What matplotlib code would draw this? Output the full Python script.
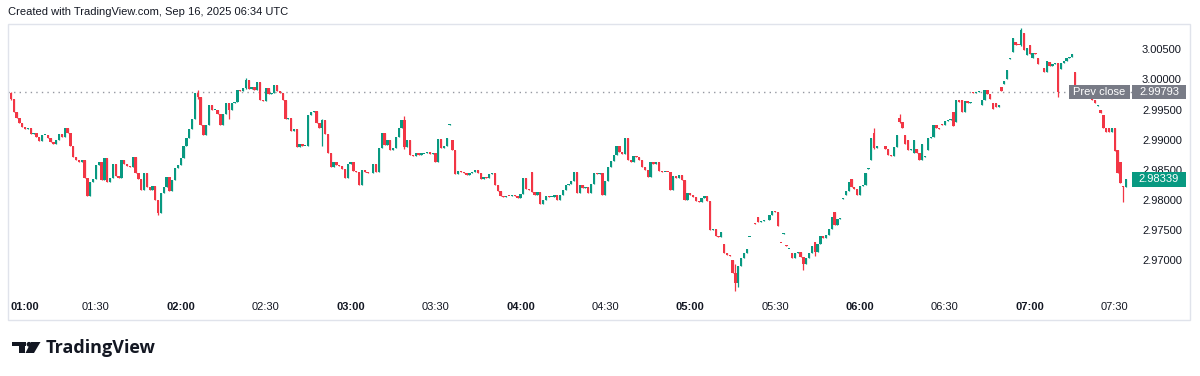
import numpy as np
import matplotlib
matplotlib.use("Agg")
import matplotlib.pyplot as plt
import matplotlib.transforms as mtrans
from matplotlib.patches import Rectangle, Circle, Polygon

# 1-minute candles starting 01:00, prices x 10000
first_open = 29978
closes = [
    29968, 29946, 29936, 29928, 29921, 29917, 29919, 29909, 29911, 29904,
    29898, 29908, 29908, 29903, 29896, 29893, 29899, 29909, 29905, 29920,
    29911, 29889, 29871, 29866, 29862, 29866, 29836, 29806, 29829, 29834,
    29858, 29862, 29833, 29869, 29830, 29836, 29860, 29840, 29836, 29866,
    29860, 29856, 29855, 29871, 29845, 29835, 29816, 29845, 29822, 29817,
    29823, 29800, 29778, 29812, 29821, 29838, 29815, 29833, 29853, 29858,
    29869, 29889, 29903, 29917, 29934, 29978, 29970, 29924, 29907, 29924,
    29958, 29949, 29950, 29942, 29924, 29943, 29960, 29950, 29961, 29963,
    29982, 29980, 29986, 29999, 29984, 29987, 29983, 29995, 29966, 29964,
    29986, 29975, 29978, 29991, 29980, 29978, 29966, 29934, 29936, 29914,
    29917, 29888, 29892, 29890, 29890, 29941, 29946, 29948, 29928, 29920,
    29932, 29910, 29877, 29854, 29863, 29858, 29856, 29851, 29836, 29860,
    29863, 29848, 29847, 29824, 29849, 29846, 29844, 29845, 29859, 29846,
    29886, 29911, 29891, 29900, 29883, 29886, 29905, 29920, 29932, 29888,
    29900, 29874, 29872, 29877, 29874, 29877, 29878, 29879, 29876, 29878,
    29862, 29901, 29886, 29889, 29902, 29926, 29882, 29843, 29848, 29846,
    29845, 29842, 29844, 29847, 29849, 29845, 29834, 29838, 29836, 29843,
    29844, 29825, 29814, 29806, 29805, 29807, 29806, 29808, 29806, 29803,
    29810, 29836, 29818, 29816, 29813, 29808, 29813, 29793, 29800, 29807,
    29805, 29805, 29808, 29800, 29808, 29817, 29825, 29826, 29832, 29846,
    29812, 29825, 29820, 29822, 29812, 29826, 29845, 29843, 29845, 29808,
    29832, 29855, 29864, 29874, 29889, 29879, 29876, 29903, 29866, 29863,
    29872, 29871, 29866, 29855, 29850, 29838, 29863, 29860, 29862, 29848,
    29846, 29847, 29846, 29816, 29839, 29836, 29841, 29833, 29800, 29811,
    29808, 29805, 29798, 29797, 29803, 29806, 29798, 29750, 29752, 29740,
    29739, 29746, 29712, 29708, 29706, 29679, 29662, 29690, 29703, 29712,
    29718, 29739, 29751, 29760, 29763, 29765, 29766, 29767, 29774, 29782,
    29780, 29757, 29728, 29745, 29724, 29719, 29703, 29712, 29713, 29705,
    29694, 29703, 29712, 29724, 29713, 29726, 29740, 29737, 29742, 29752,
    29771, 29758, 29768, 29769, 29803, 29815, 29829, 29822, 29818, 29808,
    29823, 29825, 29844, 29853, 29903, 29886, 29890, 29889, 29890, 29885,
    29875, 29873, 29887, 29907, 29929, 29919, 29893, 29883, 29884, 29899,
    29877, 29866, 29893, 29872, 29902, 29905, 29924, 29920, 29917, 29925,
    29931, 29933, 29935, 29922, 29965, 29963, 29946, 29964, 29960, 29963,
    29977, 29979, 29980, 29966, 29982, 29976, 29967, 29951, 29955, 29957,
    29980, 29997, 30015, 30035, 30068, 30058, 30057, 30082, 30049, 30052,
    30042, 30044, 30043, 30025, 30026, 30013, 30031, 30023, 30026, 30028,
    29979, 30027, 30030, 30035, 30037, 30042, 29991, 29990, 29989, 29985,
    29978, 29970, 29965, 29960, 29957, 29944, 29919, 29912, 29913, 29919,
    29881, 29845, 29828, 29822, 29833.9,
]
# candles whose open is not the previous close
gap_opens = {
    155: 29925, 156: 29899, 184: 29846, 252: 29727, 255: 29700, 261: 29738,
    262: 29752, 263: 29761, 264: 29771, 272: 29729, 273: 29744, 274: 29725,
    275: 29718, 276: 29712, 284: 29730, 291: 29780, 294: 29802, 295: 29808,
    297: 29834, 303: 29851, 304: 29866, 305: 29911, 314: 29936, 316: 29907,
    317: 29899, 319: 29878, 320: 29885, 323: 29871, 324: 29882, 329: 29926,
    333: 29946, 334: 29930, 336: 29966, 340: 29979, 343: 29957, 347: 29961,
    348: 29960, 350: 29987, 351: 29993, 352: 30000, 353: 30034, 354: 30045,
    355: 30062, 358: 30077, 359: 30040, 360: 30058, 361: 30036, 363: 30036,
    365: 30019, 367: 30029, 370: 30027, 371: 30017, 376: 30012, 384: 29956,
    385: 29949, 386: 29941, 387: 29920, 388: 29920, 390: 29920, 391: 29883,
    392: 29863, 393: 29823,
}
# (high, low) where the wick sticks out
wicks = {
    0: (29979, 29965), 52: (29800, 29775), 66: (29983, 29968), 77: (29961, 29935),
    83: (30003, 29984), 110: (29935, 29890), 139: (29940, 29885), 256: (29693, 29648),
    257: (29690, 29655), 280: (29705, 29684), 284: (29730, 29706), 305: (29920, 29884),
    314: (29943, 29928), 357: (30086, 30055), 370: (30028, 29970), 393: (29823, 29797),
}

prev_close = 2.99793
last_price = 2.98339
price_ticks = [2.970, 2.975, 2.980, 2.985, 2.990, 2.995, 3.000, 3.005]
time_ticks = [0, 30, 60, 90, 120, 150, 180, 210, 240, 270, 300, 330, 360, 390]
time_labels = ["01:00", "01:30", "02:00", "02:30", "03:00", "03:30", "04:00",
               "04:30", "05:00", "05:30", "06:00", "06:30", "07:00", "07:30"]

GREEN = "#089981"
RED = "#F23645"
TXT = "#131722"
plt.rcParams["font.family"] = ["Liberation Sans", "DejaVu Sans"]

c = np.array(closes, dtype=float) / 1e4
o = np.empty_like(c)
o[0] = first_open / 1e4
o[1:] = c[:-1]
for k, v in gap_opens.items():
    o[k] = v / 1e4
hi = np.maximum(o, c)
lo = np.minimum(o, c)
for k, (h, l) in wicks.items():
    hi[k] = h / 1e4
    lo[k] = l / 1e4
x = np.arange(len(c))
cols = np.where(c >= o, GREEN, RED)

W, H = 1200, 376
fig = plt.figure(figsize=(12, 3.76), dpi=100)
fig.patch.set_facecolor("white")
ax = fig.add_axes([8 / W, 1 - 296 / H, 1125 / W, 271 / H])

body_lo = np.minimum(o, c)
body_h = np.abs(c - o)
small = body_h < 0.00014
body_lo[small] = (o[small] + c[small]) / 2 - 0.00007
body_h[small] = 0.00014
ax.vlines(x, lo, hi, colors=cols, lw=0.9, zorder=3)
ax.bar(x, body_h, bottom=body_lo, width=0.82, color=cols, lw=0, zorder=4)

ax.axhline(prev_close, color="#9598a1", lw=1, linestyle=(0, (1, 3)), zorder=2)

ax.set_xlim(-1.06, 396.47)
ax.set_ylim(2.96402, 3.00904)
for s in ax.spines.values():
    s.set_visible(False)

ax.set_xticks(time_ticks)
ax.set_xticklabels(time_labels)
ax.tick_params(axis="x", length=0, pad=4, labelsize=8, labelcolor=TXT)
for i, lab in enumerate(ax.get_xticklabels()):
    if time_labels[i].endswith(":00"):
        lab.set_fontweight("bold")
ax.get_xticklabels()[0].set_horizontalalignment("left")

ax.yaxis.tick_right()
ax.set_yticks(price_ticks)
ax.set_yticklabels([f"{p:.5f}" for p in price_ticks])
ax.tick_params(axis="y", length=0, pad=6.5, labelsize=8, labelcolor=TXT)

# price labels on the scale
bt = mtrans.blended_transform_factory(ax.transAxes, ax.transData)
def ax_x(px):
    return (px - 8) / 1125.0
dy = 7.2 / 6020
for (x0, x1), fc, txt, yv in [((1069, 1130), "#787b86", "Prev close", prev_close),
                             ((1132, 1186), "#787b86", "2.99793", prev_close),
                             ((1132, 1186), GREEN, "2.98339", last_price)]:
    ax.add_patch(Rectangle((ax_x(x0), yv - dy), ax_x(x1) - ax_x(x0), 2 * dy,
                           transform=bt, fc=fc, ec="none", clip_on=False, zorder=10))
    ax.text(ax_x((x0 + x1) / 2), yv, txt, transform=bt, ha="center", va="center",
            color="white", fontsize=8, zorder=11, clip_on=False)

# frame
fig.add_artist(Rectangle((8 / W, 1 - 320 / H), 1182 / W, 296 / H, transform=fig.transFigure,
                         fill=False, ec="#e0e3eb", lw=1))

fig.text(8 / W, 1 - 12 / H, "Created with TradingView.com, Sep 16, 2025 06:34 UTC",
         ha="left", va="center", fontsize=8, color=TXT)

# logo
pt = mtrans.Affine2D().scale(1 / W, -1 / H).translate(0, 1) + fig.transFigure
for p in [Rectangle((12, 342), 13.5, 4.2), Rectangle((18.5, 342), 6.5, 11),
          Circle((29, 344.3), 2.4), Polygon([(31, 342), (40.5, 342), (34, 353), (25.5, 353)])]:
    p.set_transform(pt)
    p.set_facecolor("#131722")
    p.set_edgecolor("none")
    fig.add_artist(p)
fig.text(46 / W, 1 - 353 / H, "TradingView", ha="left", va="baseline",
         fontsize=13, fontweight="bold", color="#131722", family=["Open Sans", "DejaVu Sans"])

fig.savefig("out.png", dpi=100)
